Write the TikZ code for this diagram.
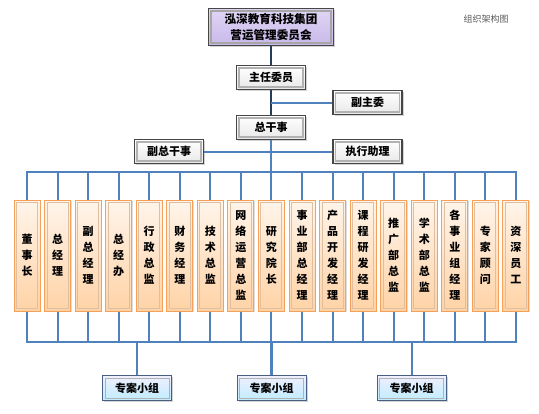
\documentclass[tikz,border=0pt]{standalone}
\usepackage{fontspec}
\newfontfamily\cjk{Noto Sans CJK SC}
\usetikzlibrary{shadows}
\definecolor{busblue}{RGB}{79,129,189}
\definecolor{darkline}{RGB}{38,60,92}
\definecolor{boxedge}{RGB}{70,70,70}
\definecolor{orangeedge}{RGB}{247,160,90}
\definecolor{groupedge}{RGB}{70,95,130}
\definecolor{lavtop}{RGB}{224,214,244}
\definecolor{lavbot}{RGB}{200,184,234}

\tikzset{
  frame/.style={path picture={\draw[#1] ([shift={(2.5pt,-2.5pt)}]path picture bounding box.north west) rectangle ([shift={(-2.5pt,2.5pt)}]path picture bounding box.south east);}},
  boardbox/.style={draw=boxedge, line width=1.2pt, top color=lavtop, bottom color=lavbot, frame=gray!70,
    drop shadow={opacity=0.35, shadow xshift=1.5pt, shadow yshift=-1.5pt},
    minimum width=125pt, minimum height=37pt, align=center, font=\cjk\bfseries\fontsize{11.6}{16}\selectfont},
  greybox/.style={draw=boxedge, line width=1.2pt, top color=white, bottom color=gray!18, frame=gray!60,
    drop shadow={opacity=0.35, shadow xshift=1.5pt, shadow yshift=-1.5pt},
    minimum width=69pt, minimum height=24pt},
  deptbox/.style={draw=orangeedge, line width=1pt, top color=orange!8, bottom color=orange!35, frame=brown!50,
    drop shadow={opacity=0.25, shadow xshift=1pt, shadow yshift=-1pt},
    minimum width=26pt, minimum height=111pt, align=center},
  groupbox/.style={draw=groupedge, line width=1pt, top color=blue!6, bottom color=blue!30!cyan!25, frame=gray!60,
    drop shadow={opacity=0.35, shadow xshift=1.5pt, shadow yshift=-1.5pt},
    minimum width=69pt, minimum height=25pt},
  bus/.style={busblue, line width=2pt},
  trunk/.style={darkline, line width=2.5pt}
}

\begin{document}
\begin{tikzpicture}[x=1pt, y=-1pt,
    every node/.style={font=\cjk\bfseries\fontsize{11}{16}\selectfont, inner sep=0pt}]
  \useasboundingbox (0,0) rectangle (539,413);

  % leadership
  \node[boardbox] (board) at (271,27) {泓深教育科技集团\\营运管理委员会};
  \node[greybox] (chair) at (271,77.5) {主任委员};
  \node[greybox] (vice) at (367.5,102.5) {副主委};
  \node[greybox] (gm) at (271,127.5) {总干事};
  \node[greybox] (vgm) at (169,151.5) {副总干事};
  \node[greybox] (asst) at (367.5,151.5) {执行助理};
  \node[font=\cjk\fontsize{9}{9}\selectfont, text=gray!70!black] (title) at (486,19) {组织架构图};

  \draw[trunk] (board) -- (chair);
  \draw[trunk] (chair) -- (gm);
  \draw[bus] (vice.west) -- (vice.west -| chair);
  \draw[bus] (vgm.east) -- (asst.west);

  % departments
  \coordinate (topbus) at (271,172);
  \coordinate (botbus) at (271,342);
  \foreach \name [count=\i] in {董\\事\\长, 总\\经\\理, 副\\总\\经\\理, 总\\经\\办, 行\\政\\总\\监,
      财\\务\\经\\理, 技\\术\\总\\监, 网\\络\\运\\营\\总\\监, 研\\究\\院\\长, 事\\业\\部\\总\\经\\理,
      产\\品\\开\\发\\经\\理, 课\\程\\研\\发\\经\\理, 推\\广\\部\\总\\监, 学\\术\\部\\总\\监,
      各\\事\\业\\组\\经\\理, 专\\家\\顾\\问, 资\\深\\员\\工}
    \node[deptbox] (c\i) at ({27+(\i-1)*30.56},255.5) {\name};

  \draw[bus] (gm.south) -- (gm |- topbus);
  \draw[bus] (c1.north) -- (c1.north |- topbus) -- (c17.north |- topbus) -- (c17.north);
  \draw[bus] (c1.south) -- (c1.south |- botbus) -- (c17.south |- botbus) -- (c17.south);
  \foreach \i in {2,...,16} {
    \draw[bus] (c\i.north) -- (c\i.north |- topbus);
    \draw[bus] (c\i.south) -- (c\i.south |- botbus);
  }

  % project groups
  \node[groupbox] (g1) at (137,388) {专案小组};
  \node[groupbox] (g2) at (271.5,388) {专案小组};
  \node[groupbox] (g3) at (411.5,388) {专案小组};
  \draw[bus] (g1.north |- botbus) -- (g1.north);
  \draw[bus, line width=2.6pt] (g2.north |- botbus) -- (g2.north);
  \draw[bus] (g3.north |- botbus) -- (g3.north);
\end{tikzpicture}
\end{document}
